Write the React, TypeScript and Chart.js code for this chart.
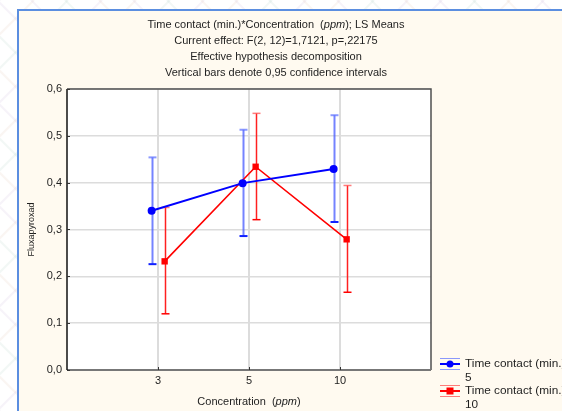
import React, { useEffect, useRef } from 'react';
import { Chart, registerables } from 'chart.js';

Chart.register(...registerables);

// Concentration levels (ppm) on the x axis
const categories = ['3', '5', '10'];

// Time contact (min.) levels
const factorName = 'Time contact (min.)';
const levels = ['5', '10'];

// LS means and 95% confidence limits, time contact = 5 min
const means5 = [0.34, 0.399, 0.429];
const lower5 = [0.226, 0.286, 0.316];
const upper5 = [0.454, 0.513, 0.544];

// LS means and 95% confidence limits, time contact = 10 min
const means10 = [0.232, 0.434, 0.279];
const lower10 = [0.12, 0.321, 0.166];
const upper10 = [0.347, 0.548, 0.394];

const yMin = 0;
const yMax = 0.6;
const yStep = 0.1;

const titleLines: Array<Array<[string, boolean]>> = [
  [['Time contact (min.)*Concentration  (', false], ['ppm', true], ['); LS Means', false]],
  [['Current effect: F(2, 12)=1,7121, p=,22175', false]],
  [['Effective hypothesis decomposition', false]],
  [['Vertical bars denote 0,95 confidence intervals', false]],
];
const xTitle: Array<[string, boolean]> = [['Concentration  (', false], ['ppm', true], [')', false]];
const yTitle = 'Fluxapyroxad';

const FONT = 'Arial, "Liberation Sans", sans-serif';
const TEXT = '#1e1e1e';

const BLUE = '#0000ff';
const RED = '#ff0000';

// horizontal shift of each series around its category, in axis units
const SHIFT = [-0.07, 0.073];

function drawRich(ctx: CanvasRenderingContext2D, parts: Array<[string, boolean]>, cx: number, cy: number, size: number) {
  let total = 0;
  const widths = parts.map(([t, it]) => {
    ctx.font = `${it ? 'italic ' : ''}${size}px ${FONT}`;
    const w = ctx.measureText(t).width;
    total += w;
    return w;
  });
  let x = cx - total / 2;
  ctx.textBaseline = 'middle';
  ctx.textAlign = 'left';
  parts.forEach(([t, it], i) => {
    ctx.font = `${it ? 'italic ' : ''}${size}px ${FONT}`;
    ctx.fillText(t, x, cy);
    x += widths[i];
  });
}

const backdrop = {
  id: 'backdrop',
  beforeDraw(chart: any) {
    const ctx: CanvasRenderingContext2D = chart.ctx;
    const W = chart.width;
    const H = chart.height;
    ctx.save();
    ctx.fillStyle = '#ffffff';
    ctx.fillRect(0, 0, W, H);
    // faint lattice behind the panel
    ctx.lineWidth = 2;
    const cols = ['rgba(200,180,215,0.16)', 'rgba(175,205,190,0.16)', 'rgba(225,195,175,0.16)'];
    for (let k = -H; k < W; k += 34) {
      ctx.strokeStyle = cols[Math.abs(k / 34) % 3 | 0];
      ctx.beginPath();
      ctx.moveTo(k, 0);
      ctx.lineTo(k + H, H);
      ctx.stroke();
      ctx.beginPath();
      ctx.moveTo(k + H, 0);
      ctx.lineTo(k, H);
      ctx.stroke();
    }
    // panel
    ctx.fillStyle = '#fffaf0';
    ctx.fillRect(18, 10, W - 18, H - 10);
    ctx.fillStyle = '#5b8ee0';
    ctx.fillRect(17, 9, W - 17, 2);
    ctx.fillRect(17, 9, 2, H - 9);
    // plot area
    const a = chart.chartArea;
    ctx.fillStyle = '#ffffff';
    ctx.fillRect(a.left, a.top, a.right - a.left, a.bottom - a.top);
    ctx.restore();
  },
};

const errorBars = {
  id: 'errorBars',
  beforeDatasetsDraw(chart: any) {
    const ctx: CanvasRenderingContext2D = chart.ctx;
    const ys = chart.scales.y;
    ctx.save();
    chart.data.datasets.forEach((ds: any, di: number) => {
      const meta = chart.getDatasetMeta(di);
      ds.lower.forEach((lo: number, i: number) => {
        const px = Math.round(meta.data[i].x) + 0.5;
        const top = ys.getPixelForValue(ds.upper[i]);
        const bot = ys.getPixelForValue(lo);
        ctx.strokeStyle = ds.barColor;
        ctx.lineWidth = ds.barWidth;
        ctx.beginPath();
        ctx.moveTo(px, top);
        ctx.lineTo(px, bot);
        ctx.stroke();
        ctx.strokeStyle = ds.capTopColor;
        ctx.beginPath();
        ctx.moveTo(px - 4, top);
        ctx.lineTo(px + 4, top);
        ctx.stroke();
        ctx.strokeStyle = ds.capBotColor;
        ctx.beginPath();
        ctx.moveTo(px - 4, bot);
        ctx.lineTo(px + 4, bot);
        ctx.stroke();
      });
    });
    ctx.restore();
  },
};

const frameAndText = {
  id: 'frameAndText',
  afterDraw(chart: any) {
    const ctx: CanvasRenderingContext2D = chart.ctx;
    const a = chart.chartArea;
    const xs = chart.scales.x;
    const ys = chart.scales.y;
    ctx.save();
    // plot frame
    ctx.lineWidth = 1.5;
    ctx.strokeStyle = '#505050';
    ctx.beginPath();
    ctx.moveTo(a.left, a.top);
    ctx.lineTo(a.right, a.top);
    ctx.lineTo(a.right, a.bottom);
    ctx.stroke();
    ctx.strokeStyle = '#777777';
    ctx.lineWidth = 2;
    ctx.beginPath();
    ctx.moveTo(a.left, a.bottom);
    ctx.lineTo(a.right, a.bottom);
    ctx.stroke();
    ctx.strokeStyle = '#111111';
    ctx.lineWidth = 1.5;
    ctx.beginPath();
    ctx.moveTo(a.left, a.top);
    ctx.lineTo(a.left, a.bottom);
    ctx.stroke();
    // small inner tick marks
    ctx.lineWidth = 1;
    ctx.strokeStyle = '#333';
    for (let v = yMin; v <= yMax + 1e-9; v += yStep) {
      const py = Math.round(ys.getPixelForValue(v)) + 0.5;
      ctx.beginPath();
      ctx.moveTo(a.left, py);
      ctx.lineTo(a.left + 3, py);
      ctx.stroke();
    }
    categories.forEach((_, i) => {
      const px = Math.round(xs.getPixelForValue(i + 1)) + 0.5;
      ctx.beginPath();
      ctx.moveTo(px, a.bottom);
      ctx.lineTo(px, a.bottom - 3);
      ctx.stroke();
    });

    // titles
    ctx.fillStyle = TEXT;
    const tcx = 276;
    titleLines.forEach((line, i) => drawRich(ctx, line, tcx, 25 + i * 16, 11));
    drawRich(ctx, xTitle, (a.left + a.right) / 2, 402, 11);
    ctx.save();
    ctx.translate(32, (a.top + a.bottom) / 2);
    ctx.rotate(-Math.PI / 2);
    ctx.font = `9px ${FONT}`;
    ctx.textAlign = 'center';
    ctx.textBaseline = 'middle';
    ctx.fillText(yTitle, 0, 0);
    ctx.restore();

    // legend
    const rows = [364, 391];
    chart.data.datasets.forEach((ds: any, di: number) => {
      const cy = rows[di];
      const x0 = 440;
      const x1 = 460;
      ctx.lineWidth = 1.2;
      ctx.strokeStyle = ds.capTopColor;
      ctx.beginPath();
      ctx.moveTo(x0, cy - 5.5);
      ctx.lineTo(x1, cy - 5.5);
      ctx.moveTo(x0, cy + 5.5);
      ctx.lineTo(x1, cy + 5.5);
      ctx.stroke();
      ctx.strokeStyle = ds.borderColor;
      ctx.lineWidth = 2;
      ctx.beginPath();
      ctx.moveTo(x0, cy);
      ctx.lineTo(x1, cy);
      ctx.stroke();
      ctx.fillStyle = ds.borderColor;
      if (di === 0) {
        ctx.beginPath();
        ctx.arc(450, cy, 3.5, 0, Math.PI * 2);
        ctx.fill();
      } else {
        ctx.fillRect(446.5, cy - 3.5, 7, 7);
      }
      ctx.fillStyle = TEXT;
      ctx.font = `11.8px ${FONT}`;
      ctx.textAlign = 'left';
      ctx.textBaseline = 'middle';
      ctx.fillText(factorName, 465, cy);
      ctx.fillText(levels[di], 465, cy + 14);
    });
    ctx.restore();
  },
};

export default function App() {
  const ref = useRef<HTMLCanvasElement>(null);

  useEffect(() => {
    document.body.style.margin = '0';
    const canvas = ref.current!;
    const chart = new Chart(canvas, {
      type: 'line',
      data: {
        datasets: [
          {
            label: `${factorName} ${levels[0]}`,
            data: means5.map((v, i) => ({ x: i + 1 + SHIFT[0], y: v })),
            borderColor: BLUE,
            backgroundColor: BLUE,
            borderWidth: 2,
            pointRadius: 4,
            pointStyle: 'circle',
            pointBorderWidth: 0,
            lower: lower5,
            upper: upper5,
            barColor: 'rgba(70,90,255,0.75)',
            barWidth: 2,
            capTopColor: 'rgba(90,110,255,0.7)',
            capBotColor: '#1020ff',
          } as any,
          {
            label: `${factorName} ${levels[1]}`,
            data: means10.map((v, i) => ({ x: i + 1 + SHIFT[1], y: v })),
            borderColor: RED,
            backgroundColor: RED,
            borderWidth: 1.6,
            pointRadius: 4.5,
            pointStyle: 'rect',
            pointBorderWidth: 0,
            lower: lower10,
            upper: upper10,
            barColor: '#ff2020',
            barWidth: 1.5,
            capTopColor: 'rgba(255,80,80,0.75)',
            capBotColor: '#ff0000',
          } as any,
        ],
      },
      options: {
        responsive: false,
        animation: false,
        devicePixelRatio: 1,
        layout: { padding: { left: 0, top: 89, right: 131, bottom: 0 } },
        plugins: { legend: { display: false }, title: { display: false }, tooltip: { enabled: false } },
        scales: {
          x: {
            type: 'linear',
            min: 0,
            max: categories.length + 1,
            afterBuildTicks: (s: any) => {
              s.ticks = categories.map((_, i) => ({ value: i + 1 }));
            },
            afterFit: (s: any) => {
              s.height = 41;
            },
            ticks: {
              callback: (v: any) => categories[Number(v) - 1] ?? '',
              font: { family: FONT, size: 11 },
              color: TEXT,
              padding: 4,
              maxRotation: 0,
              autoSkip: false,
            },
            grid: { color: '#dcdcdc', lineWidth: 2, drawTicks: false },
            border: { display: false },
          },
          y: {
            type: 'linear',
            min: yMin,
            max: yMax,
            afterFit: (s: any) => {
              s.width = 67;
            },
            ticks: {
              stepSize: yStep,
              callback: (v: any) => Number(v).toFixed(1).replace('.', ','),
              font: { family: FONT, size: 11 },
              color: TEXT,
              padding: 5,
            },
            grid: { color: '#dcdcdc', lineWidth: 1.5, drawTicks: false },
            border: { display: false },
          },
        },
      } as any,
      plugins: [backdrop, errorBars, frameAndText],
    });
    return () => chart.destroy();
  }, []);

  return (
    <div style={{ position: 'absolute', left: 0, top: 0, width: 562, height: 411 }}>
      <canvas ref={ref} width={562} height={411} style={{ display: 'block' }} />
    </div>
  );
}
